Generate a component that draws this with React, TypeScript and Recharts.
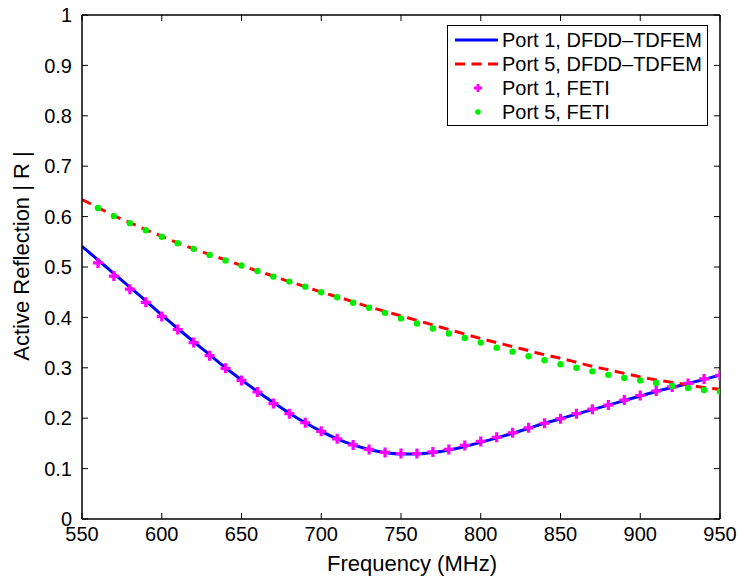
import React from 'react';
import { ComposedChart, Line, XAxis, YAxis, Legend } from 'recharts';

const freqs = [550, 560, 570, 580, 590, 600, 610, 620, 630, 640, 650, 660, 670, 680, 690, 700, 710, 720, 730, 740, 750, 760, 770, 780, 790, 800, 810, 820, 830, 840, 850, 860, 870, 880, 890, 900, 910, 920, 930, 940, 950];

const port1Dfdd = [0.541, 0.514, 0.487, 0.460, 0.433, 0.405, 0.378, 0.352, 0.326, 0.300, 0.276, 0.253, 0.231, 0.210, 0.191, 0.174, 0.159, 0.147, 0.138, 0.132, 0.129, 0.129, 0.132, 0.137, 0.144, 0.152, 0.161, 0.170, 0.180, 0.190, 0.199, 0.208, 0.217, 0.226, 0.235, 0.244, 0.253, 0.261, 0.269, 0.277, 0.286];

const port5Dfdd = [0.634, 0.618, 0.602, 0.588, 0.574, 0.561, 0.548, 0.536, 0.525, 0.514, 0.503, 0.492, 0.482, 0.471, 0.461, 0.450, 0.441, 0.431, 0.421, 0.412, 0.403, 0.394, 0.385, 0.376, 0.367, 0.358, 0.350, 0.342, 0.334, 0.326, 0.319, 0.311, 0.303, 0.296, 0.289, 0.282, 0.276, 0.271, 0.266, 0.261, 0.257];

const fetiFreqs = [560, 570, 580, 590, 600, 610, 620, 630, 640, 650, 660, 670, 680, 690, 700, 710, 720, 730, 740, 750, 760, 770, 780, 790, 800, 810, 820, 830, 840, 850, 860, 870, 880, 890, 900, 910, 920, 930, 940, 950];

const port1Feti = [0.508, 0.482, 0.456, 0.430, 0.402, 0.376, 0.350, 0.324, 0.299, 0.275, 0.252, 0.229, 0.209, 0.191, 0.174, 0.159, 0.147, 0.138, 0.132, 0.130, 0.130, 0.133, 0.138, 0.146, 0.154, 0.162, 0.171, 0.181, 0.190, 0.199, 0.209, 0.218, 0.226, 0.236, 0.245, 0.254, 0.262, 0.269, 0.278, 0.285];

const port5Feti = [0.617, 0.601, 0.587, 0.573, 0.560, 0.547, 0.536, 0.524, 0.513, 0.503, 0.492, 0.481, 0.471, 0.461, 0.450, 0.440, 0.429, 0.419, 0.409, 0.398, 0.388, 0.378, 0.368, 0.359, 0.350, 0.340, 0.332, 0.323, 0.315, 0.307, 0.300, 0.293, 0.286, 0.280, 0.275, 0.270, 0.264, 0.260, 0.256, 0.253];

const xTicks = [550, 600, 650, 700, 750, 800, 850, 900, 950];
const yTicks = [0, 0.1, 0.2, 0.3, 0.4, 0.5, 0.6, 0.7, 0.8, 0.9, 1];
const legendLabels = ['Port 1, DFDD\u2013TDFEM', 'Port 5, DFDD\u2013TDFEM', 'Port 1, FETI', 'Port 5, FETI'];

const FONT = '"Liberation Sans", Arial, Helvetica, sans-serif';
const BLUE = '#0000ff';
const RED = '#ff0000';
const MAGENTA = '#ff00ff';
const GREEN = '#00ee00';

const data = freqs.map((f, i) => {
  const j = fetiFreqs.indexOf(f);
  return {
    freq: f,
    p1: port1Dfdd[i],
    p5: port5Dfdd[i],
    p1f: j >= 0 ? port1Feti[j] : null,
    p5f: j >= 0 ? port5Feti[j] : null,
  };
});

const PlusDot = (p: any) => {
  if (!Number.isFinite(p.cy) || !Number.isFinite(p.cx)) return <g key={p.index} />;
  const h = 5;
  return (
    <path
      key={p.index}
      d={`M${p.cx - h},${p.cy}H${p.cx + h}M${p.cx},${p.cy - h}V${p.cy + h}`}
      stroke={MAGENTA}
      strokeWidth={3.2}
      fill="none"
    />
  );
};

const GreenDot = (p: any) => {
  if (!Number.isFinite(p.cy) || !Number.isFinite(p.cx)) return <g key={p.index} />;
  return <circle key={p.index} cx={p.cx} cy={p.cy} r={3.2} fill={GREEN} stroke="none" />;
};

const XTitle = (props: any) => {
  const vb = props.viewBox || { x: 82, y: 519, width: 638, height: 60 };
  return (
    <text x={vb.x + vb.width / 2 + 11} y={vb.y + 52} textAnchor="middle" fontFamily={FONT} fontSize={22} fill="#000">
      Frequency (MHz)
    </text>
  );
};

const YTitle = (props: any) => {
  const vb = props.viewBox || { x: 0, y: 15, width: 82, height: 504 };
  const cx = vb.x + 29;
  const cy = vb.y + vb.height / 2 - 11;
  return (
    <text x={cx} y={cy} transform={`rotate(-90 ${cx} ${cy})`} textAnchor="middle" fontFamily={FONT} fontSize={22} fill="#000">
      Active Reflection | R |
    </text>
  );
};

const sample = (i: number) => {
  if (i === 0) return <line x1={7} x2={50} y1={12} y2={12} stroke={BLUE} strokeWidth={3} />;
  if (i === 1) return <line x1={7} x2={50} y1={12} y2={12} stroke={RED} strokeWidth={3} strokeDasharray="10 6.5" />;
  if (i === 2)
    return <path d="M26,12H34M30,8V16" stroke={MAGENTA} strokeWidth={2.8} fill="none" />;
  return <circle cx={30} cy={12} r={2.8} fill={GREEN} />;
};

const renderLegend = () => (
  <div
    style={{
      width: 261,
      height: 101,
      boxSizing: 'border-box',
      border: '1.3px solid #000',
      background: '#fff',
      paddingTop: 2,
      fontFamily: FONT,
      fontSize: 20,
      color: '#000',
    }}
  >
    {legendLabels.map((lab, i) => (
      <div key={i} style={{ display: 'flex', alignItems: 'center', height: 24, lineHeight: '24px' }}>
        <svg width={52} height={24} style={{ flex: 'none', display: 'block' }}>
          {sample(i)}
        </svg>
        <span style={{ marginLeft: 2, whiteSpace: 'nowrap' }}>{lab}</span>
      </div>
    ))}
  </div>
);

const fmtY = (v: number) => String(Number(v.toFixed(1)));
const blank = () => '';

export default function App() {
  const tickStyle = { fontFamily: FONT, fontSize: 20, fill: '#000' };
  return (
    <div style={{ position: 'absolute', left: 0, top: 0, width: 739, height: 579, background: '#fff' }}>
      <ComposedChart width={739} height={579} data={data} margin={{ top: 14, right: 18, bottom: 0, left: 0 }}>
        <XAxis
          dataKey="freq"
          type="number"
          domain={[550, 950]}
          ticks={xTicks}
          allowDataOverflow
          height={60}
          tickSize={-6}
          tickMargin={14}
          tick={tickStyle}
          axisLine={{ stroke: '#000', strokeWidth: 1.5 }}
          tickLine={{ stroke: '#000', strokeWidth: 1 }}
          interval={0}
          label={XTitle}
        />
        <XAxis
          xAxisId="top"
          dataKey="freq"
          type="number"
          orientation="top"
          domain={[550, 950]}
          ticks={xTicks}
          allowDataOverflow
          height={1}
          tickSize={-6}
          tickFormatter={blank}
          axisLine={{ stroke: '#000', strokeWidth: 1.5 }}
          tickLine={{ stroke: '#000', strokeWidth: 1 }}
          interval={0}
        />
        <YAxis
          type="number"
          domain={[0, 1]}
          ticks={yTicks}
          allowDataOverflow
          width={82}
          tickSize={-6}
          tickMargin={16}
          tick={tickStyle}
          tickFormatter={fmtY}
          axisLine={{ stroke: '#000', strokeWidth: 1.5 }}
          tickLine={{ stroke: '#000', strokeWidth: 1 }}
          interval={0}
          label={YTitle}
        />
        <YAxis
          yAxisId="right"
          type="number"
          orientation="right"
          domain={[0, 1]}
          ticks={yTicks}
          allowDataOverflow
          width={1}
          tickSize={-6}
          tickFormatter={blank}
          axisLine={{ stroke: '#000', strokeWidth: 1.5 }}
          tickLine={{ stroke: '#000', strokeWidth: 1 }}
          interval={0}
        />
        <Line type="monotone" dataKey="p1" stroke={BLUE} strokeWidth={3} dot={false} activeDot={false} isAnimationActive={false} />
        <Line type="monotone" dataKey="p5" stroke={RED} strokeWidth={3} strokeDasharray="10 6.5" dot={false} activeDot={false} isAnimationActive={false} />
        <Line dataKey="p1f" stroke="none" strokeWidth={0} dot={PlusDot} activeDot={false} isAnimationActive={false} />
        <Line dataKey="p5f" stroke="none" strokeWidth={0} dot={GreenDot} activeDot={false} isAnimationActive={false} />
        <Legend
          layout="vertical"
          align="center"
          verticalAlign="middle"
          content={renderLegend}
          wrapperStyle={{ position: 'absolute', left: 447, top: 25, width: 'auto', height: 'auto' }}
        />
      </ComposedChart>
    </div>
  );
}
